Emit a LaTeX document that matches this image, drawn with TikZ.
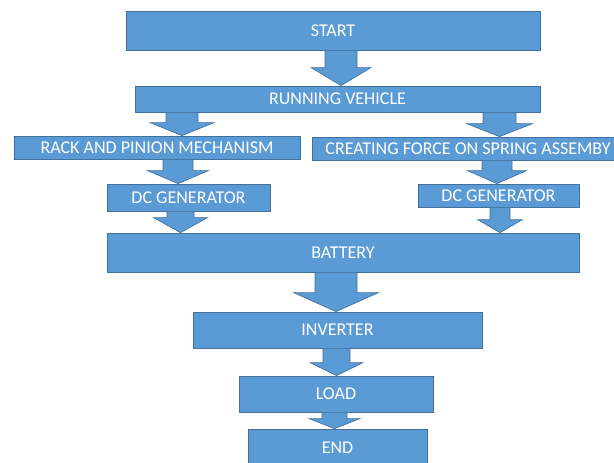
\documentclass[tikz,border=0pt]{standalone}
\usepackage{fontspec}
\setmainfont{Carlito}
\usetikzlibrary{calc}
\definecolor{boxfill}{HTML}{5B9BD5}
\definecolor{boxline}{HTML}{41719C}
\newcommand\px[1]{#1*0.75pt}
\newcommand\blockarrow[6]{%
  \coordinate (ax) at (#3,0);
  \filldraw[arrowshape] ($(#1.south -| ax)+(-#4,0)$) -- ($(#1.south -| ax)+(#4,0)$)
    -- ($(#2.north -| ax)+(#4,-#6)$) -- ($(#2.north -| ax)+(#5,-#6)$)
    -- (#2.north -| ax) -- ($(#2.north -| ax)+(-#5,-#6)$)
    -- ($(#2.north -| ax)+(-#4,-#6)$) -- cycle;}
\begin{document}
\begin{tikzpicture}[x=0.75pt,y=-0.75pt,
  box/.style={draw=boxline, line width=0.6pt, fill=boxfill, text=white, inner sep=0pt,
    font=\fontsize{13.5}{16}\selectfont},
  arrowshape/.style={draw=boxline, line width=0.5pt, fill=boxfill, line join=miter}]
\useasboundingbox (0,0) rectangle (614,463);
\clip (0,0) rectangle (614,463);
\fill[white] (0,0) rectangle (614,463);
\node[box, minimum width=\px{414}, minimum height=\px{39}] (start) at (333,30.5) {START};
\node[box, minimum width=\px{405}, minimum height=\px{26}] (run) at (337.5,99) {RUNNING VEHICLE};
\node[box, minimum width=\px{286}, minimum height=\px{23}] (rack) at (157,147.5) {RACK AND PINION MECHANISM};
\node[box, minimum width=\px{312}, minimum height=\px{23}] (force) at (468,148.5) {CREATING FORCE ON SPRING ASSEMBY};
\node[box, minimum width=\px{163}, minimum height=\px{27}] (dcl) at (188.5,197.5) {DC GENERATOR};
\node[box, minimum width=\px{161}, minimum height=\px{23}] (dcr) at (498.5,195.5) {DC GENERATOR};
\node[box, minimum width=\px{472}, minimum height=\px{39}] (bat) at (343,252.5) {BATTERY};
\node[box, minimum width=\px{289}, minimum height=\px{36}] (inv) at (337.5,330) {INVERTER};
\node[box, minimum width=\px{194}, minimum height=\px{36}] (load) at (336,394) {LOAD};
\node[box, minimum width=\px{179}, minimum height=\px{37}] (end) at (337.5,447.5) {END};
\blockarrow{start}{run}{341}{16}{30}{18}
\blockarrow{run}{rack}{182}{16}{32}{13}
\blockarrow{run}{force}{499.5}{16.5}{33}{13}
\blockarrow{rack}{dcl}{178}{15}{30.5}{13}
\blockarrow{force}{dcr}{497}{15}{29.5}{13}
\blockarrow{dcl}{bat}{180.5}{13.5}{27}{15}
\blockarrow{dcr}{bat}{500}{10}{22.5}{13}
\blockarrow{bat}{inv}{336}{21}{42.5}{19}
\blockarrow{inv}{load}{336.5}{13.5}{26.5}{13}
\blockarrow{load}{end}{334.5}{12.5}{25.5}{10}
\end{tikzpicture}
\end{document}
